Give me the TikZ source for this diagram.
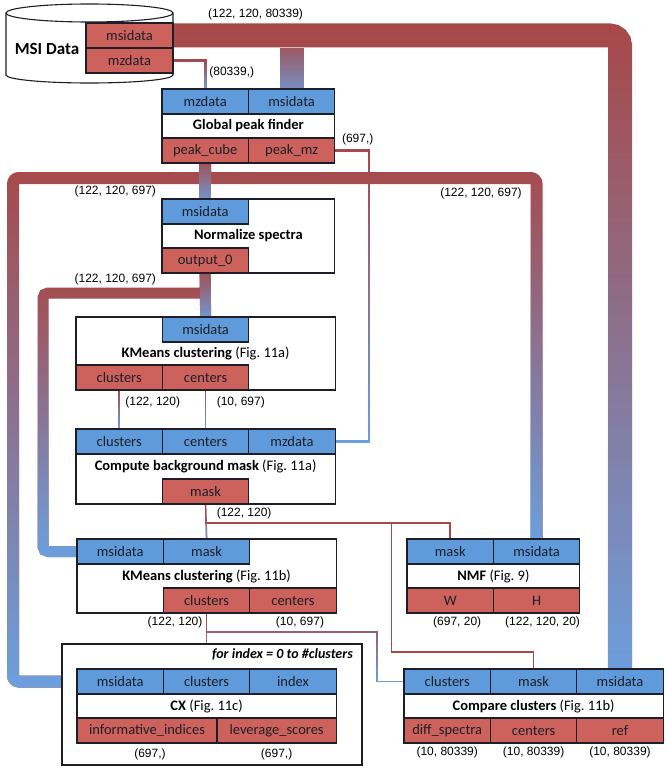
\documentclass[tikz,border=0pt]{standalone}
\usepackage{fontspec}
\setmainfont{Carlito}
\newfontfamily\dimsfont{Liberation Sans}
\usetikzlibrary{positioning, calc, backgrounds, fadings}
\definecolor{portBlue}{RGB}{95,155,218}
\definecolor{portRed}{RGB}{205,98,92}
\definecolor{bandRed}{RGB}{168,72,72}
\definecolor{bandBlue}{RGB}{108,160,222}
\definecolor{inkDark}{RGB}{30,30,40}
\tikzfading[name=fadeBlue, top color=transparent!100, bottom color=transparent!0]

\begin{document}
\begin{tikzpicture}[
    x=1pt, y=-1pt,
    module/.style={rectangle, draw=inkDark, line width=1.1pt, fill=white, inner sep=0pt, outer sep=0pt, minimum width=259.2pt, minimum height=74pt},
    port/.style={rectangle, draw=inkDark, line width=1.1pt, inner sep=0pt, outer sep=0pt, minimum width=86.4pt, minimum height=25pt, text=inkDark, font=\fontsize{14.5}{16}\selectfont},
    inport/.style={port, fill=portBlue},
    outport/.style={port, fill=portRed},
    title/.style={font=\fontsize{14.5}{16}\selectfont, inner sep=0pt},
    dims/.style={font=\dimsfont\fontsize{12}{14}\selectfont, inner sep=1pt},
    flow/.style={draw=bandRed, postaction={draw=bandBlue, path fading=fadeBlue}},
    bandA/.style={flow, line width=24pt, rounded corners=10pt},
    bandB/.style={flow, line width=12pt, rounded corners=6pt},
    bandC/.style={flow, line width=11pt, rounded corners=5pt},
    wire/.style={flow, line width=1.5pt},
    redwire/.style={draw=bandRed, line width=1.5pt}
]

\useasboundingbox (0,0) rectangle (665,768);

\draw[line width=1.1pt, draw=inkDark, fill=white] (6,13) -- (6,75) arc[start angle=180, end angle=0, x radius=83.5, y radius=8] -- (173,13) arc[start angle=0, end angle=-180, x radius=83.5, y radius=9] -- cycle;
\draw[line width=1.1pt, draw=inkDark] (6,13) arc[start angle=180, end angle=0, x radius=83.5, y radius=9];
\node[font=\bfseries\fontsize{17}{20}\selectfont] (dbLabel) at (47,49) {MSI Data};
\node[outport, minimum width=87pt, anchor=north west] (dbMsi) at (86,23) {msidata};
\node[outport, minimum width=87pt, below=0pt of dbMsi] (dbMz) {mzdata};

\node[module, minimum width=172.8pt, anchor=north west] (gpf) at (162,89) {};
\node[inport, anchor=north west] (gpfMz) at (gpf.north west) {mzdata};
\node[inport, right=0pt of gpfMz] (gpfMsi) {msidata};
\node[title] at (gpf.center) {\textbf{Global peak finder}};
\node[outport, anchor=south west] (gpfCube) at (gpf.south west) {peak\_cube};
\node[outport, right=0pt of gpfCube] (gpfPmz) {peak\_mz};

\node[module, minimum width=172.8pt, anchor=north west] (norm) at (162,199) {};
\node[inport, anchor=north west] (normMsi) at (norm.north west) {msidata};
\node[title] at (norm.center) {\textbf{Normalize spectra}};
\node[outport, anchor=south west] (normOut) at (norm.south west) {output\_0};

\node[module, minimum height=73pt, anchor=north west] (kmA) at (76,317) {};
\node[inport, below right=0pt and 86.4pt of kmA.north west] (kmAMsi) {msidata};
\node[title] at (kmA.center) {\textbf{KMeans clustering} (Fig.~11a)};
\node[outport, anchor=south west] (kmAClu) at (kmA.south west) {clusters};
\node[outport, right=0pt of kmAClu] (kmACen) {centers};

\node[module, minimum height=75pt, anchor=north west] (mask) at (76,429) {};
\node[inport, anchor=north west] (maskClu) at (mask.north west) {clusters};
\node[inport, right=0pt of maskClu] (maskCen) {centers};
\node[inport, right=0pt of maskCen] (maskMz) {mzdata};
\node[title] at (mask.center) {\textbf{Compute background mask} (Fig.~11a)};
\node[outport, above right=0pt and 86.4pt of mask.south west] (maskOut) {mask};

\node[module, anchor=north west] (kmB) at (77,539) {};
\node[inport, anchor=north west] (kmBMsi) at (kmB.north west) {msidata};
\node[inport, right=0pt of kmBMsi] (kmBMask) {mask};
\node[title] at (kmB.center) {\textbf{KMeans clustering} (Fig.~11b)};
\node[outport, above right=0pt and 86.4pt of kmB.south west] (kmBClu) {clusters};
\node[outport, right=0pt of kmBClu] (kmBCen) {centers};

\node[module, minimum width=172.8pt, anchor=north west] (nmf) at (407,539) {};
\node[inport, anchor=north west] (nmfMask) at (nmf.north west) {mask};
\node[inport, right=0pt of nmfMask] (nmfMsi) {msidata};
\node[title] at (nmf.center) {\textbf{NMF} (Fig.~9)};
\node[outport, anchor=south west] (nmfW) at (nmf.south west) {W};
\node[outport, right=0pt of nmfW] (nmfH) {H};

\node[module, minimum width=300pt, minimum height=121pt, anchor=north west] (loop) at (62,644) {};
\node[font=\bfseries\itshape\fontsize{14}{16}\selectfont, inner sep=1pt, below left=3pt and 8pt of loop.north east] (loopLbl) {for index = 0 to \#clusters};

\node[module, anchor=north west] (cx) at (77,669) {};
\node[inport, anchor=north west] (cxMsi) at (cx.north west) {msidata};
\node[inport, right=0pt of cxMsi] (cxClu) {clusters};
\node[inport, right=0pt of cxClu] (cxIdx) {index};
\node[title] at (cx.center) {\textbf{CX} (Fig.~11c)};
\node[outport, minimum width=140pt, anchor=south west] (cxInf) at (cx.south west) {informative\_indices};
\node[outport, minimum width=119.2pt, right=0pt of cxInf] (cxLev) {leverage\_scores};

\node[module, anchor=north west] (cmp) at (404,669) {};
\node[inport, anchor=north west] (cmpClu) at (cmp.north west) {clusters};
\node[inport, right=0pt of cmpClu] (cmpMask) {mask};
\node[inport, right=0pt of cmpMask] (cmpMsi) {msidata};
\node[title] at (cmp.center) {\textbf{Compare clusters} (Fig.~11b)};
\node[outport, anchor=south west] (cmpDif) at (cmp.south west) {diff\_spectra};
\node[outport, right=0pt of cmpDif] (cmpCen) {centers};
\node[outport, right=0pt of cmpCen] (cmpRef) {ref};

\node[dims, above right=2pt and 34pt of dbMsi.north east] {(122, 120, 80339)};
\node[dims, above right=10pt and 3pt of gpfMz.north] {(80339,)};
\node[dims, above right=4pt and 6pt of gpfPmz.east] {(697,)};
\node[dims, below left=22pt and 48pt of gpfCube.south] {(122, 120, 697)};
\node[dims] at (481,193) {(122, 120, 697)};
\node[dims, below left=0pt and 48pt of normOut.south] {(122, 120, 697)};
\node[dims, below right=6pt and 5pt of kmAClu.south] {(122, 120)};
\node[dims, below right=6pt and 10pt of kmACen.south] {(10, 697)};
\node[dims, below right=3pt and 10pt of maskOut.south] {(122, 120)};
\node[dims, below left=3pt and 3pt of kmBClu.south] {(122, 120)};
\node[dims, below=3pt of kmBCen, xshift=7pt] {(10, 697)};
\node[dims, below=3pt of nmfW, xshift=7pt] {(697, 20)};
\node[dims, below=3pt of nmfH, xshift=6pt] {(122, 120, 20)};
\node[dims, below=5pt of cxInf, xshift=3pt] {(697,)};
\node[dims, below=5pt of cxLev] {(697,)};
\node[dims, below=3pt of cmpDif] {(10, 80339)};
\node[dims, below=3pt of cmpCen] {(10, 80339)};
\node[dims, below=3pt of cmpRef] {(10, 80339)};

\begin{scope}[on background layer]
\draw[bandA] (dbMsi.east) -| (cmpMsi.north);
\draw[bandA] (dbMsi.south -| gpfMsi.north) -- (gpfMsi.north);
\draw[flow, line width=3pt] (dbMz.east) -| (gpfMz.north);
\draw[flow, line width=2.2pt] (gpfPmz.east) -| ($(maskMz.east)+(34,0)$) -- (maskMz.east);
\draw[bandB] (gpfCube.south) -- ++(0,15) -| ($(cxMsi.west)+(-64,0)$) -- (cxMsi.west);
\draw[bandB] (gpfCube.south) -- ++(0,15) -| (nmfMsi.north);
\draw[bandB] (gpfCube.south) -- (normMsi.north);
\draw[bandC] (normOut.south) -- ++(0,20) -| ($(kmBMsi.west)+(-34,0)$) -- (kmBMsi.west);
\draw[bandC] (normOut.south) -- (kmAMsi.north);
\draw[wire] (kmAClu.south) -- (maskClu.north);
\draw[wire] (kmACen.south) -- (maskCen.north);
\draw[wire] (maskOut.south) -- (kmBMask.north);
\draw[redwire] (maskOut.south) -- ++(0,19) -| (nmfMask.north);
\draw[redwire] (maskOut.south) -- ++(0,19) -| ($(cmpMask.north)+(-142,-17)$) -| (cmpMask.north);
\draw[wire] (kmBClu.south) -- (cxClu.north);
\draw[wire] (kmBClu.south) -- ++(0,19) -| ($(cmpClu.west)+(-27,0)$) -- (cmpClu.west);
\draw[draw=gray, line width=1.5pt] (loopLbl.south -| cxIdx.north) -- (cxIdx.north);
\end{scope}

\end{tikzpicture}
\end{document}
